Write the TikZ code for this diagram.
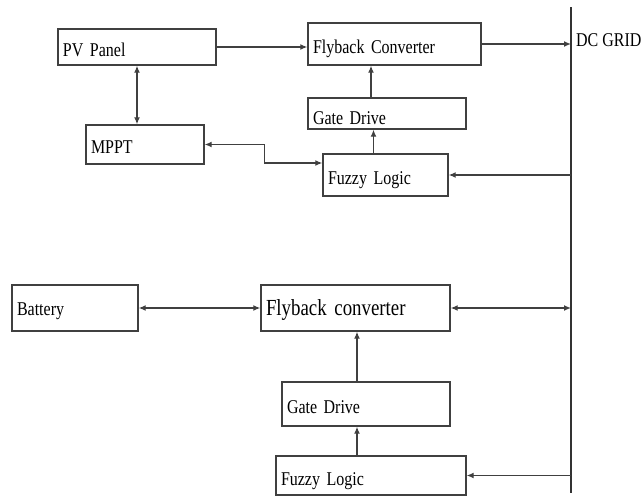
\documentclass[tikz,border=0pt]{standalone}
\usepackage{fontspec}
\setmainfont{Liberation Serif}[FakeStretch=0.82]
\usetikzlibrary{arrows.meta}
\DeclareRobustCommand\bxfont{\fontsize{19.5}{21}\selectfont\spaceskip=4pt plus 1pt minus 1pt\relax}
\DeclareRobustCommand\bigbxfont{\fontsize{23}{24}\selectfont\spaceskip=4.7pt plus 1pt minus 1pt\relax}
\tikzset{bx/.style={draw=black!75,line width=1.4pt,inner xsep=5pt,inner ysep=0pt,align=left,font=\bxfont,text height=18pt,text depth=0pt},
arr/.style={-{Latex[length=7pt,width=6pt]},line width=1.3pt,draw=black!75},
darr/.style={{Latex[length=7pt,width=6pt]}-{Latex[length=7pt,width=6pt]},line width=1.3pt,draw=black!75}}
\begin{document}
\begin{tikzpicture}[x=1pt,y=-1pt]
\useasboundingbox(0,0)rectangle(641,496);
\node[bx,text width=148pt,minimum height=36pt](pv)at(137,47){PV Panel};\node[bx,text width=163pt,minimum height=42pt](fb)at(394.5,44){Flyback Converter};
\node[bx,text width=148pt,minimum height=31pt,text height=21pt](gd)at(387,113.5){Gate Drive};\node[bx,text width=108pt,minimum height=39pt](mppt)at(145,144.5){MPPT};
\node[bx,text width=115pt,minimum height=42pt](fz)at(385.5,175){Fuzzy Logic};
\node[bx,text width=116pt,minimum height=46pt,text height=14pt](bat)at(75,308){Battery};\node[bx,text width=179pt,minimum height=46pt,font=\bigbxfont,text height=15pt](fb2)at(355.5,308){Flyback converter};
\node[bx,text width=158pt,minimum height=44pt](gd2)at(366,404){Gate Drive};\node[bx,text width=180pt,minimum height=39pt,text height=20pt](fz2)at(371,475.5){Fuzzy Logic};
\coordinate(g1)at(571,7);\coordinate(g2)at(571,493);
\draw[line width=1.5pt,black!80](g1)--(g2);
\node[anchor=west,inner sep=0pt,font=\bxfont](dc)at(576,40){DC GRID};
% top half
\draw[arr](pv.east)--(pv.east-|fb.west);\draw[arr](fb.east)--(fb.east-|g1);
\draw[darr](pv.south)--(pv.south|-mppt.north);
\draw[darr](mppt.east)--++(60,0)|-([yshift=12pt]fz.west);
\draw[arr](fz.east-|g1)--(fz.east);
\draw[arr]([xshift=-12pt]fz.north)--([xshift=-12pt]fz.north|-gd.south);\draw[arr]([xshift=-16pt]gd.north)--([xshift=-16pt]gd.north|-fb.south);
% bottom half
\draw[darr](bat.east)--(fb2.west);\draw[darr](fb2.east)--(fb2.east-|g1);
\draw[arr](fz2.east-|g1)--(fz2.east);
\draw[arr]([xshift=-14pt]fz2.north)--([xshift=-14pt]fz2.north|-gd2.south);\draw[arr]([xshift=-9pt]gd2.north)--([xshift=-9pt]gd2.north|-fb2.south);
\end{tikzpicture}
\end{document}
